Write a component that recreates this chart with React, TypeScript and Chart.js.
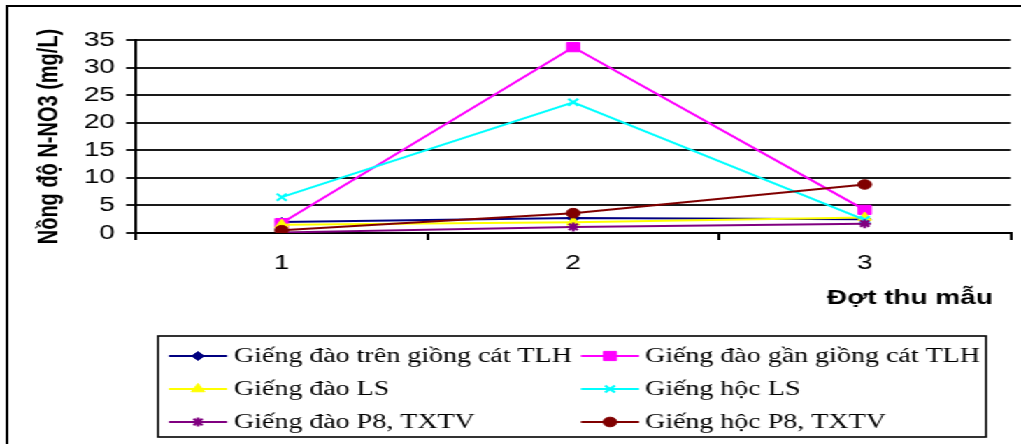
import React, { useEffect, useRef } from 'react';
import { Chart, registerables } from 'chart.js';
import { drawPoint } from 'chart.js/helpers';

Chart.register(...registerables);

// Sampling rounds (x axis)
const categories = ['1', '2', '3'];

// N-NO3 concentration (mg/L) per well type
const giengDaoTrenGiongCat = [2.0, 2.7, 2.5];
const giengDaoGanGiongCat = [1.8, 33.7, 4.2];
const giengDaoLS = [1.5, 1.95, 2.8];
const giengHocLS = [6.5, 23.7, 2.4];
const giengDaoP8 = [0.1, 1.1, 1.7];
const giengHocP8 = [0.5, 3.6, 8.8];

const seriesLabels = [
  'Giếng đào trên giồng cát TLH',
  'Giếng đào gần giồng cát TLH',
  'Giếng đào LS',
  'Giếng hộc LS',
  'Giếng đào P8, TXTV',
  'Giếng hộc P8, TXTV',
];

const yMin = 0;
const yMax = 35;
const yStep = 5;

const yTitle = 'Nồng độ N-NO3 (mg/L)';
const xTitle = 'Đợt thu mẫu';

// The drawing is laid out narrow and widened horizontally on screen.
const W = 730;
const H = 444;
const STRETCH = 1021 / W;

const styles = [
  { color: '#000080', pointStyle: 'rectRot', radius: 4.5 },
  { color: '#FF00FF', pointStyle: 'rect', radius: 6.5 },
  { color: '#FFFF00', pointStyle: 'triangle', radius: 5.5 },
  { color: '#00FFFF', pointStyle: 'crossRot', radius: 5 },
  { color: '#800080', pointStyle: 'star', radius: 4.5 },
  { color: '#800000', pointStyle: 'circle', radius: 4.8 },
];

const seriesData = [
  giengDaoTrenGiongCat,
  giengDaoGanGiongCat,
  giengDaoLS,
  giengHocLS,
  giengDaoP8,
  giengHocP8,
];

const decorations = {
  id: 'decorations',
  afterDraw(chart: any) {
    const { ctx, chartArea } = chart;
    ctx.save();

    // outer frame (left and top edges)
    ctx.strokeStyle = '#000';
    ctx.lineWidth = 2;
    ctx.beginPath();
    ctx.moveTo(5, H + 2);
    ctx.lineTo(5, 6);
    ctx.lineTo(W + 2, 6);
    ctx.stroke();

    // axis titles
    ctx.fillStyle = '#000';
    ctx.font = 'bold 20px "Liberation Sans", Arial, sans-serif';
    ctx.textAlign = 'center';
    ctx.textBaseline = 'middle';
    ctx.save();
    ctx.translate(35.7, (chartArea.top + chartArea.bottom) / 2);
    ctx.rotate(-Math.PI / 2);
    ctx.fillText(yTitle, 0, 0);
    ctx.restore();
    ctx.fillText(xTitle, 650.6, 298);

    // legend
    const box = { l: 113, t: 336, r: 705, b: 437 };
    ctx.lineWidth = 1.6;
    ctx.strokeStyle = '#000';
    ctx.strokeRect(box.l, box.t, box.r - box.l, box.b - box.t);

    const rows = [356, 389, 422];
    const cols = [
      { l0: 120.8, l1: 162.3, tx: 167.3 },
      { l0: 415.4, l1: 456.9, tx: 461.2 },
    ];
    ctx.font = '20px "Liberation Serif", "Times New Roman", serif';
    ctx.textAlign = 'left';
    chart.data.datasets.forEach((ds: any, i: number) => {
      const c = cols[i % 2];
      const y = rows[Math.floor(i / 2)];
      ctx.strokeStyle = ds.borderColor;
      ctx.lineWidth = 2;
      ctx.beginPath();
      ctx.moveTo(c.l0, y);
      ctx.lineTo(c.l1, y);
      ctx.stroke();
      ctx.fillStyle = ds.pointBackgroundColor;
      ctx.strokeStyle = ds.pointBorderColor;
      ctx.lineWidth = ds.pointStyle === 'star' || ds.pointStyle === 'crossRot' ? 2 : 1;
      drawPoint(ctx, { pointStyle: ds.pointStyle, radius: ds.pointRadius, rotation: 0, borderWidth: 1 }, (c.l0 + c.l1) / 2, y);
      ctx.fillStyle = '#000';
      ctx.fillText(ds.label, c.tx, y + 1);
    });

    ctx.restore();
  },
};

export default function App() {
  const canvasRef = useRef<HTMLCanvasElement | null>(null);

  useEffect(() => {
    document.body.style.margin = '0';
    const canvas = canvasRef.current;
    if (!canvas) return;

    const chart = new Chart(canvas, {
      type: 'line',
      data: {
        labels: categories,
        datasets: seriesData.map((values, i) => ({
          label: seriesLabels[i],
          data: values,
          borderColor: styles[i].color,
          backgroundColor: styles[i].color,
          pointBackgroundColor: styles[i].color,
          pointBorderColor: styles[i].color,
          pointStyle: styles[i].pointStyle as any,
          pointRadius: styles[i].radius,
          pointBorderWidth: styles[i].pointStyle === 'star' || styles[i].pointStyle === 'crossRot' ? 2 : 1,
          borderWidth: 2,
          tension: 0,
          fill: false,
          order: -i,
        })),
      },
      options: {
        responsive: false,
        animation: false,
        devicePixelRatio: 1,
        layout: { padding: { left: 0, right: 7.1, top: 40, bottom: 0 } },
        plugins: {
          legend: { display: false },
          tooltip: { enabled: false },
          title: { display: false },
        },
        scales: {
          x: {
            type: 'category',
            offset: true,
            grid: {
              offset: true,
              drawOnChartArea: false,
              drawTicks: true,
              tickLength: 7,
              color: '#000',
              lineWidth: 2,
            },
            border: { display: true, color: '#000', width: 2 },
            ticks: {
              color: '#000',
              padding: 11,
              font: { family: '"Liberation Sans", Arial, sans-serif', size: 20 },
            },
            afterFit(scale: any) {
              scale.height = 211;
            },
          },
          y: {
            min: yMin,
            max: yMax,
            grid: {
              color: '#1a1a1a',
              lineWidth: 2,
              drawTicks: true,
              tickLength: 7,
            },
            border: { display: true, color: '#000', width: 2 },
            ticks: {
              stepSize: yStep,
              color: '#000',
              padding: 8,
              font: { family: '"Liberation Sans", Arial, sans-serif', size: 20 },
            },
            afterFit(scale: any) {
              scale.width = 97.2;
            },
          },
        },
      },
      plugins: [decorations],
    });

    return () => chart.destroy();
  }, []);

  return (
    <div
      style={{
        position: 'fixed',
        left: 0,
        top: 0,
        width: W,
        height: H,
        transform: `scaleX(${STRETCH})`,
        transformOrigin: '0 0',
        background: '#fff',
      }}
    >
      <canvas ref={canvasRef} width={W} height={H} />
    </div>
  );
}
